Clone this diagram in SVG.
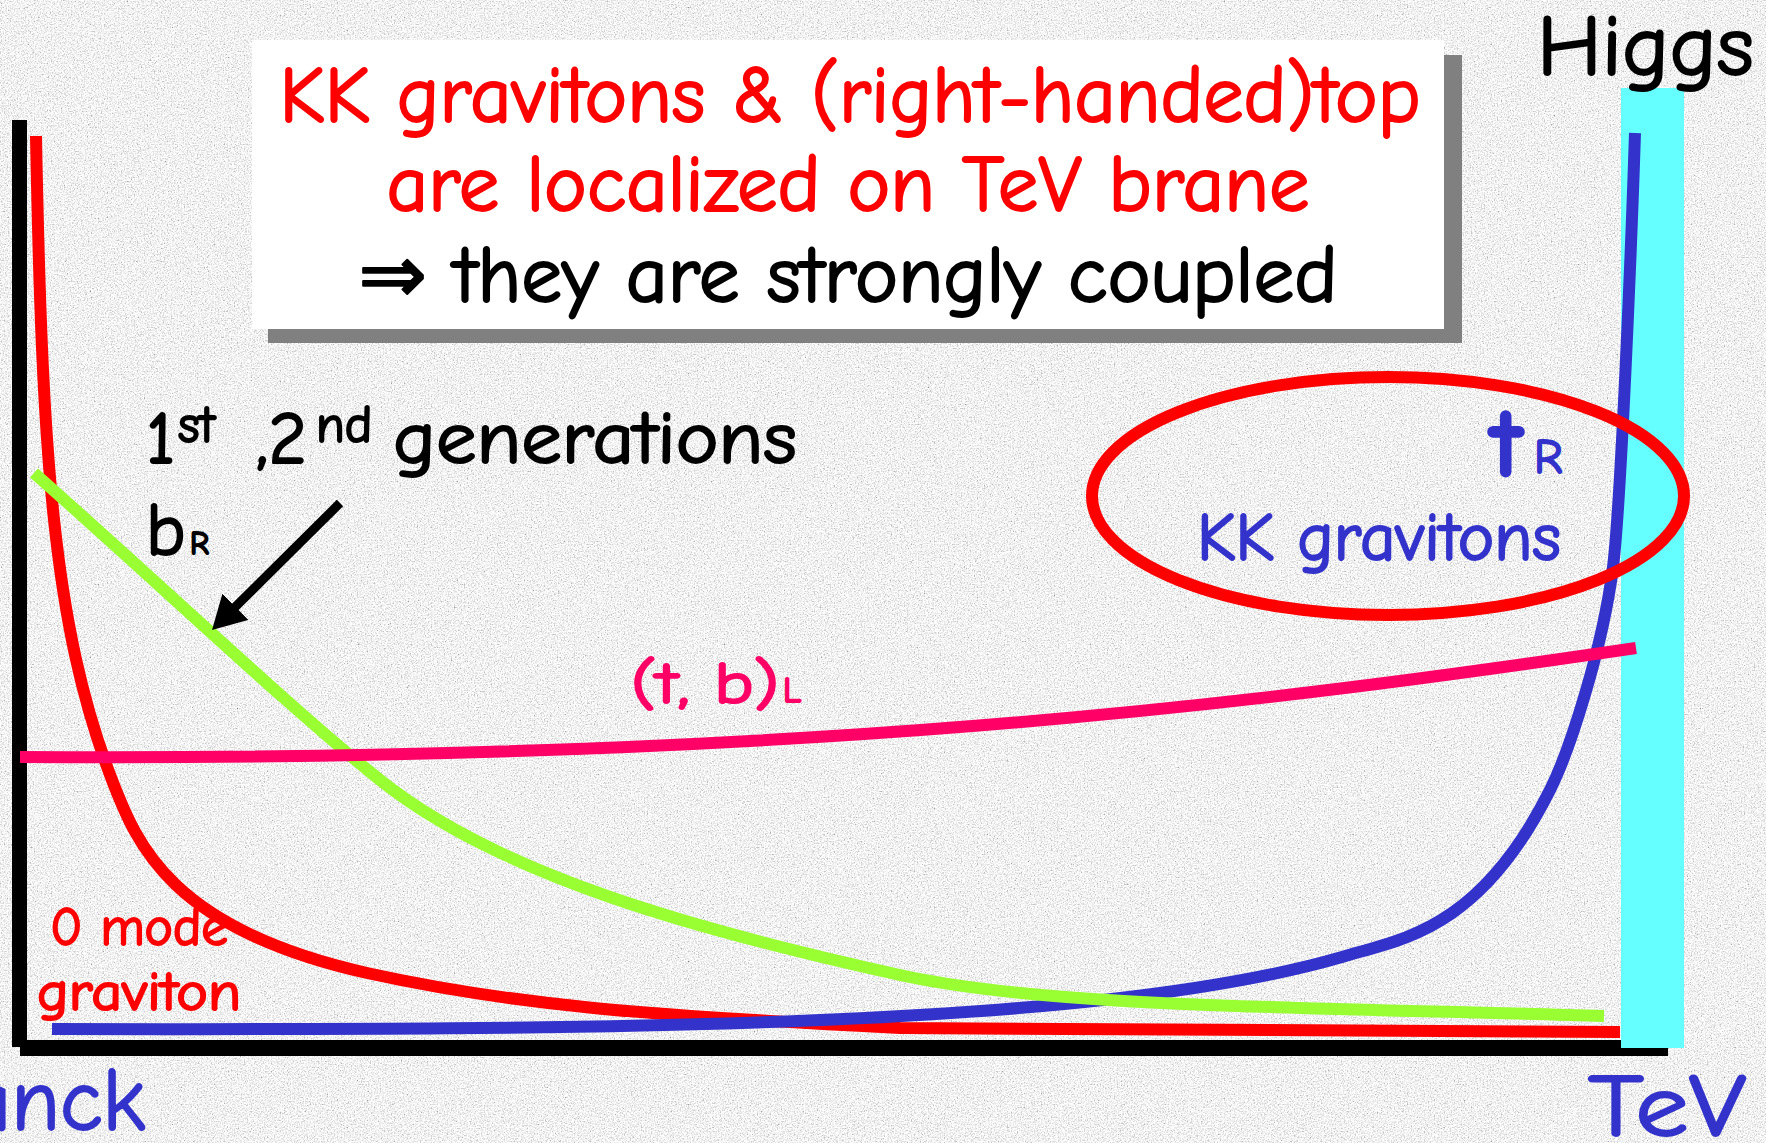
<svg xmlns="http://www.w3.org/2000/svg" width="1766" height="1143" viewBox="0 0 1766 1143">
  <defs>
    <filter id="grain" x="0" y="0" width="1766" height="1143" filterUnits="userSpaceOnUse">
      <feTurbulence type="fractalNoise" baseFrequency="0.7" numOctaves="3" seed="7" result="n"/>
      <feColorMatrix in="n" type="matrix" values="0.33 0.33 0.33 0 0  0.33 0.33 0.33 0 0  0.33 0.33 0.33 0 0  0 0 0 0 1" result="g"/>
      <feComponentTransfer in="g">
        <feFuncR type="linear" slope="2" intercept="-0.1"/>
        <feFuncG type="linear" slope="2" intercept="-0.1"/>
        <feFuncB type="linear" slope="2" intercept="-0.1"/>
        <feFuncA type="linear" slope="0" intercept="1"/>
      </feComponentTransfer>
    </filter>
    <marker id="arrowhead" markerUnits="userSpaceOnUse" viewBox="0 0 33 37" markerWidth="33" markerHeight="37" refX="5" refY="18.5" orient="auto">
      <path d="M0,0 L33,18.5 L0,37 z" fill="#000000"/>
    </marker>
    <style>
      text { font-family: "Comic Sans MS", "Comic Neue", "Noto Sans", "DejaVu Sans", sans-serif; stroke-width: 2; stroke-linejoin: round; }
      .curve { fill: none; stroke-width: 12; stroke-linecap: butt; stroke-linejoin: round; }
      .red { fill: #FF0000; stroke: #FF0000; }
      .blue { fill: #3333CC; stroke: #3333CC; }
      .pink { fill: #FF0066; stroke: #FF0066; }
      .black { fill: #000000; stroke: #000000; }
    </style>
  </defs>

  <!-- background -->
  <rect x="0" y="0" width="1766" height="1143" fill="#e6e6e6"/>
  <rect x="0" y="0" width="1766" height="1143" filter="url(#grain)"/>

  <!-- title box -->
  <g id="title-box">
    <rect x="268" y="55" width="1194" height="288" fill="#808080"/>
    <rect x="252" y="40" width="1192" height="289" fill="#FFFFFF"/>
    <text class="red" x="850" y="122" font-size="80" text-anchor="middle" textLength="1141" lengthAdjust="spacingAndGlyphs">KK gravitons &amp; (right-handed)top</text>
    <text class="red" x="848" y="211" font-size="80" text-anchor="middle" textLength="923" lengthAdjust="spacingAndGlyphs">are localized on TeV brane</text>
    <text class="black" x="848" y="302" font-size="80" text-anchor="middle" textLength="979" lengthAdjust="spacingAndGlyphs">⇒ they are strongly coupled</text>
  </g>

  <!-- axes -->
  <g id="axes">
    <rect x="12" y="120" width="15" height="927" fill="#000000"/>
    <rect x="20" y="1040" width="1648" height="16" fill="#000000"/>
  </g>

  <!-- zero mode graviton curve -->
  <g id="curve-zero-mode-graviton">
    <path class="curve" stroke="#FF0000" d="M36,136 C42,450 52,624 112,780 C137,845 171,929 367,973 C517,1006 650,1015.5 900,1028 L1620,1032"/>
  </g>

  <!-- TeV brane (Higgs) -->
  <g id="tev-brane">
    <rect x="1621" y="88" width="63" height="960" fill="#66FFFF"/>
  </g>

  <!-- tR / KK gravitons curve -->
  <g id="curve-tR">
    <path class="curve" stroke="#3333CC" d="M52,1029 C600,1030 1092,1029.5 1342,957 C1379,946 1415,939 1452,913 C1487,888.5 1520,850 1550,790 C1570,750 1603,647 1613,567 C1621,503 1631.8,233 1635,133"/>
  </g>

  <!-- 1st, 2nd generations curve -->
  <g id="curve-light-generations">
    <path class="curve" stroke="#99FF33" d="M34,473 C150,575 290,708 380,780 C500,876 700,931 900,975 C1050,1008 1304,1007 1604,1016"/>
  </g>

  <!-- (t,b)L curve -->
  <g id="curve-tbL">
    <path class="curve" stroke="#FF0066" d="M20,757 C800,762 1250,705 1636,648"/>
  </g>

  <!-- ellipse highlight -->
  <g id="highlight-ellipse">
    <ellipse cx="1388" cy="496" rx="296" ry="119" fill="none" stroke="#FF0000" stroke-width="12"/>
  </g>

  <!-- labels -->
  <g id="label-higgs">
    <text class="black" x="1537" y="75" font-size="86" textLength="217" lengthAdjust="spacingAndGlyphs">Higgs</text>
  </g>

  <g id="label-generations">
    <text class="black" font-size="74"><tspan x="146" y="463">1</tspan><tspan x="178" y="442" font-size="52">st </tspan><tspan x="256" y="463">,2</tspan><tspan x="316" y="442" font-size="52">nd </tspan><tspan x="393" y="463" textLength="404" lengthAdjust="spacingAndGlyphs">generations</tspan></text>
    <text class="black" font-size="74"><tspan x="146" y="555">b</tspan><tspan x="190" y="554" font-size="32">R</tspan></text>
  </g>

  <g id="label-tR">
    <text class="blue" font-size="100"><tspan x="1490" y="476" font-weight="bold">t</tspan><tspan x="1534" y="473" font-size="48">R</tspan></text>
    <text class="blue" x="1197" y="560" font-size="68" textLength="364" lengthAdjust="spacingAndGlyphs">KK gravitons</text>
  </g>

  <g id="label-tbL">
    <text class="pink" font-size="58"><tspan x="631" y="703" textLength="148" lengthAdjust="spacingAndGlyphs">(t, b)</tspan><tspan x="783" y="702" font-size="36">L</tspan></text>
  </g>

  <g id="label-zero-mode">
    <text class="red" x="50" y="945" font-size="55" textLength="178" lengthAdjust="spacingAndGlyphs">0 mode</text>
    <text class="red" x="37" y="1010" font-size="55" textLength="204" lengthAdjust="spacingAndGlyphs">graviton</text>
  </g>

  <g id="label-planck">
    <text class="blue" x="145" y="1130" font-size="88" text-anchor="end">Planck</text>
  </g>

  <g id="label-tev">
    <text class="blue" x="1588" y="1136" font-size="88" textLength="158" lengthAdjust="spacingAndGlyphs">TeV</text>
  </g>

  <!-- connectors -->
  <g id="connectors">
    <line x1="340" y1="503" x2="231.9" y2="610.3" stroke="#000000" stroke-width="9" marker-end="url(#arrowhead)"/>
  </g>
</svg>
